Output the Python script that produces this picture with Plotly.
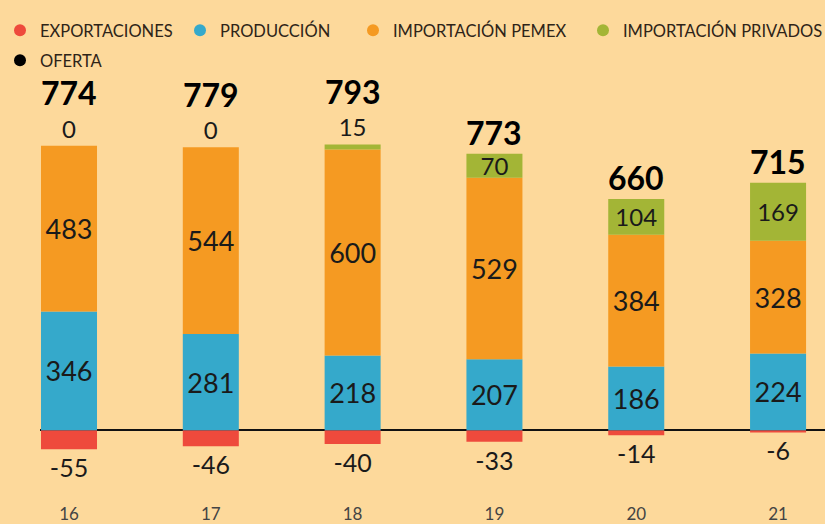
import plotly.graph_objects as go

years = ["16", "17", "18", "19", "20", "21"]
exportaciones = [-55, -46, -40, -33, -14, -6]
produccion = [346, 281, 218, 207, 186, 224]
importacion_pemex = [483, 544, 600, 529, 384, 328]
importacion_privados = [0, 0, 15, 70, 104, 169]
oferta = [774, 779, 793, 773, 660, 715]

names = ["EXPORTACIONES", "PRODUCCIÓN", "IMPORTACIÓN PEMEX", "IMPORTACIÓN PRIVADOS", "OFERTA"]
colors = ["#EE4A3C", "#35A9CB", "#F59A22", "#A3B536", "#000000"]

BG = "#FDD99B"
FONT = "Lato"
TXT = "#1a1a1a"

fig = go.Figure()

# privados label placement: outside when the segment is too thin
priv_pos = ["outside" if v < 30 else "inside" for v in importacion_privados]

bar_specs = [
    (exportaciones, colors[0], "outside", 25),
    (produccion, colors[1], "inside", 27),
    (importacion_pemex, colors[2], "inside", 27),
    (importacion_privados, colors[3], priv_pos, 24),
]
for i, (vals, col, pos, fs) in enumerate(bar_specs):
    fig.add_trace(go.Bar(
        x=years, y=vals, name=names[i], marker=dict(color=col, line=dict(width=0)),
        text=[str(v) for v in vals], textposition=pos, insidetextanchor="middle",
        textangle=0,
        textfont=dict(family=FONT, size=fs, color=TXT),
        constraintext="none", cliponaxis=False, showlegend=False,
    ))

# legend entries (circle symbols), one legend box per entry
legend_ids = ["legend", "legend2", "legend3", "legend4", "legend5"]
legend_left = [0, 180, 353, 583, 0]
legend_row = [13, 13, 13, 13, 43]
for i, nm in enumerate(names):
    fig.add_trace(go.Scatter(
        x=[None], y=[None], mode="markers", name=nm,
        marker=dict(color=colors[i], size=12, symbol="circle"),
        legend=legend_ids[i],
    ))

# oferta totals above each stack
for i, y in enumerate(years):
    top = produccion[i] + importacion_pemex[i] + importacion_privados[i]
    shift = 53 if priv_pos[i] == "outside" else 21
    fig.add_annotation(
        x=i, y=top, xref="x", yref="y", text="<b>%d</b>" % oferta[i],
        showarrow=False, yanchor="middle", yshift=shift,
        font=dict(family=FONT, size=32, color="#000000", weight=900),
    )

legend_layout = {}
for i, lid in enumerate(legend_ids):
    legend_layout[lid] = dict(
        orientation="h", xref="container", yref="container",
        x=legend_left[i] / 825, y=1 - legend_row[i] / 524,
        xanchor="left", yanchor="top",
        font=dict(family=FONT, size=16.5, color="#2e2418"),
        bgcolor="rgba(0,0,0,0)", itemclick=False, itemdoubleclick=False,
    )

fig.update_layout(
    width=825, height=524,
    margin=dict(l=40, r=0, t=85, b=24),
    paper_bgcolor=BG, plot_bgcolor=BG,
    barmode="relative", bargap=0.605,
    font=dict(family=FONT, color="#333"),
    xaxis=dict(
        type="category", range=[-0.2045, 5.331],
        showline=False, showgrid=False, ticks="",
        tickfont=dict(family=FONT, size=17, color="#444"),
        ticklabelstandoff=4,
    ),
    yaxis=dict(
        range=[-197, 1006], visible=True, showticklabels=False,
        showgrid=False, ticks="", showline=False,
        zeroline=True, zerolinecolor="#111", zerolinewidth=1.5,
    ),
    **legend_layout,
)

fig.write_html("out.html")
